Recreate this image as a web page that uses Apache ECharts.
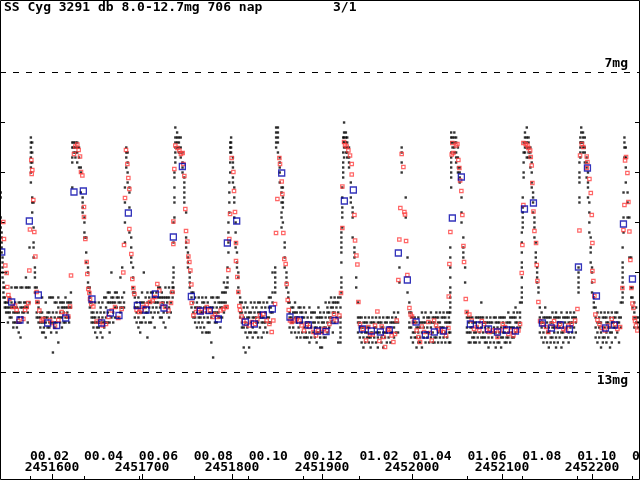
<!DOCTYPE html>
<html><head><meta charset="utf-8">
<script src="https://cdn.jsdelivr.net/npm/echarts@6/dist/echarts.min.js"></script>
<style>html,body{margin:0;padding:0;background:#fff}#c{width:640px;height:480px}</style>
</head><body><div id="c"></div>
<script>
const JD_BASE = 2450000;
const titleText = 'SS Cyg 3291 db 8.0-12.7mg 706 nap';
const pageText = '3/1';
const jdTicks = [1600,1700,1800,1900,2000,2100,2200];
const monthTicks = [1575.5,1635.5,1696.5,1757.5,1818.5,1879.5,1941.5,2000.5,2061.5,2122.5,2183.5,2244.5];
const monthLabels = ['00.02','00.04','00.06','00.08','00.10','00.12','01.02','01.04','01.06','01.08','01.10','01.12'];
const magTicks = [8,9,10,11,12];
const limitMags = [7,13];
const limitLabels = ['7mg','13mg'];

// visual estimates: [JD-2450000, mag, mag, ...]
const visualCols = [
[1543,9.4,9.5,9.9,10.0,10.1],[1544,10.2,10.3,10.4,10.5,10.6],[1545,10.7,10.8,10.9,11.0,11.1],
[1546,11.2,11.3,11.4,11.5],[1547.5,11.3,11.5,11.6,11.7],[1549,11.0,11.6,11.7,11.8],
[1551,11.6,11.7,11.8,12.0],[1553,11.5,11.7,11.8,11.9],[1555,11.3,11.6,11.7,11.9],
[1557,11.7,11.8,12.0,12.1],[1559,11.3,11.6,11.7,11.8,12.0],[1561,11.3,11.7,11.8,12.0,12.1],
[1563,11.6,11.8,11.9,12.0,12.2],[1565,11.3,11.6,11.7,12.0,12.3],[1567,11.3,11.7,11.8,11.9],
[1569,11.6,11.7,11.8],[1571,11.1,11.3,11.6,11.7],[1573,11.3,11.7,11.8,12.0],
[1575,10.5,11.3,11.6],[1576.5,8.3,8.4,8.5,8.6,8.7,8.8,8.9,9.0,9.2],[1578,8.4,8.6,8.8,9.5,9.6,9.8],
[1579.5,9.6,10.1,10.4,10.5,10.7],[1581,10.9,11.0,11.1,11.3,11.4],
[1583,11.3,11.6,11.8,11.9],[1585,11.6,11.7,11.9,12.0],[1587,11.8,11.9,12.0,12.1],
[1589,11.5,11.8,12.0,12.2],[1591,11.9,12.0,12.1,12.2],[1593,11.6,11.9,12.0,12.3],
[1595,11.8,11.9,12.1],[1597,11.5,11.8,12.0,12.1],[1599,11.5,11.9,12.0,12.2],
[1601,11.5,11.8,12.0,12.6],[1603,11.6,11.9,12.0,12.1],[1605,11.6,11.8,12.0,12.2],
[1607,11.5,11.7,11.9,12.4],[1609,11.6,11.8,11.9,12.0],[1611,11.6,11.7,11.9,12.1],
[1613,11.6,11.7,11.8,12.0],[1615,11.5,11.7,11.9,12.0],[1617,11.6,11.7,11.8,11.9],
[1619,11.6,11.7,11.9,12.0],[1621,11.4,11.6,11.7],
[1622.5,8.4,8.5,8.7,8.8,9.3],[1624,8.4,8.5,8.6],[1626,8.4,8.5,8.6,8.7],[1628,8.4,8.5,8.6,8.8],
[1630,8.5,8.7,8.9],[1632,8.9,9.0,9.4],[1634,9.5,9.6,9.7,9.8],[1636,9.9,10.0,10.2,10.3],
[1638,10.3,10.6,10.8],[1640,10.9,11.0,11.2,11.3],[1642,11.3,11.4,11.5,11.6,11.7],
[1644,11.6,11.8,11.9,12.0],[1646,11.8,11.9,12.0,12.1],[1648,11.6,11.9,12.0,12.2],
[1650,11.8,12.0,12.1,12.3],[1652,11.6,11.9,12.0,12.1],[1654,11.7,11.8,12.0,12.2],
[1656,11.6,11.9,12.0,12.3],[1658,11.5,11.8,12.0,12.1],[1660,11.5,11.7,11.9,12.0],
[1662,11.4,11.6,11.8,12.0],[1664,11.4,11.6,12.0,12.2],[1666,11.0,11.5,11.6,11.9],
[1668,11.5,11.6,11.8,12.0],[1670,11.4,11.6,11.7,11.9],[1672,11.4,11.5,11.7],
[1674,11.5,11.6,11.9],[1676,11.1,11.6,11.7,11.8],[1678,10.9,11.5,11.7],[1680,11.4,11.6,11.7],
[1681,9.3,9.6,10.0,10.4],[1682.5,8.5,8.6,8.7,8.9],[1684,8.6,8.8,9.0,9.2],[1686,9.3,9.4,9.7,10.2],
[1688,10.3,10.5,10.7,10.8],[1690,10.9,11.1,11.3,11.4],
[1692,11.4,11.5,11.7,11.9],[1694,11.6,11.7,11.8,12.0],[1696,11.5,11.7,11.9,12.1],
[1698,11.6,11.8,12.0,12.2],[1700,11.4,11.6,11.8,12.0],[1702,11.0,11.6,11.7,11.9],
[1704,11.5,11.7,11.8,12.0],[1706,11.4,11.6,11.8,12.3],[1708,11.5,11.6,11.7,12.0],
[1710,11.4,11.6,11.8,12.0],[1712,11.4,11.5,11.7,11.9],[1714,11.5,11.6,11.8,12.1],
[1716,11.4,11.6,11.7],[1718,11.3,11.5,11.6,11.8],[1720,11.3,11.5,11.7,11.9],
[1722,11.4,11.5,11.6,11.9],[1724,11.5,11.6,11.8,12.0],[1726,11.3,11.5,11.7,12.1],
[1728,11.5,11.6,11.8],[1730,11.3,11.5,11.7,11.9],[1732,11.4,11.6,11.8],[1734,11.2,11.3,11.5],
[1735,10.0,10.4,10.9,11.0,11.1,11.3,11.4],[1736,9.0,9.1,9.3,9.5,9.6,9.9],
[1737,8.1,8.3,8.4,8.5,8.6,8.7,8.8],[1739,8.2,8.3,8.4,8.5],[1741,8.3,8.4,8.5,8.6],
[1743,8.3,8.5,8.6,8.7],[1745,8.6,8.8,8.9,9.0],[1747,9.1,9.2,9.3,9.4,9.5,9.6],
[1749,9.8,10.3,10.4,10.5],[1751,10.6,10.7,10.8,10.9],[1753,11.0,11.1,11.2,11.3],
[1755,11.4,11.5,11.7],[1757,11.4,11.6,11.8,11.9],[1759,11.5,11.7,11.9,12.0],
[1761,11.6,11.7,11.8,12.1],[1763,11.5,11.7,11.9,12.0],[1765,11.7,11.8,11.9,12.1],
[1767,11.5,11.6,11.8,12.0,12.2],[1769,11.6,11.7,11.9,12.1],[1771,11.5,11.7,11.8,12.2],
[1773,11.6,11.9,12.0,12.2],[1775,11.7,11.8,12.0,12.2],[1777,11.5,11.7,11.9,12.4],
[1779,11.5,11.7,11.8,12.7],[1781,11.6,11.8,12.0],[1783,11.5,11.7,11.8,12.0],
[1785,11.5,11.6,11.8,11.9],[1787,11.6,11.7,11.9,12.1],[1789,11.4,11.6,11.7,11.9],
[1791,11.2,11.4,11.6,11.8],[1793,11.3,11.4,11.6,11.7],
[1795,10.9,11.1,11.2,11.3],[1796,10.0,10.2,10.4,10.6],[1797,9.2,9.4,9.6,9.8],
[1798,8.4,8.5,8.6,8.8,9.0],[1799,8.3,8.4,8.5,8.6],[1801,8.7,8.8,8.9,9.1,9.2],
[1802.5,9.3,9.5,9.6,9.9],[1804,10.0,10.2,10.4,10.5],[1805.5,10.6,10.8,10.9],
[1807,11.0,11.1,11.3,11.4],
[1809,11.5,11.6,11.8,11.9],[1811,11.6,11.8,12.0,12.1],[1813,11.7,11.9,12.1,12.5],
[1815,11.6,11.8,12.0,12.2,12.6],[1817,11.7,11.9,12.1,12.3],[1819,11.8,11.9,12.2,12.5],
[1821,11.6,11.8,12.0,12.2],[1823,11.7,11.9,12.1,12.3],[1825,11.6,11.8,11.9,12.2],
[1827,11.7,11.9,12.0,12.2],[1829,11.6,11.8,12.0,12.3],[1831,11.6,11.8,11.9,12.1],
[1833,11.7,11.9,12.0,12.3],[1835,11.6,11.9,12.0,12.2],[1837,11.7,11.8,12.0,12.1],
[1839,11.6,11.9,12.2],[1841,11.5,11.7,11.9,12.0],[1843,11.5,11.7,11.8,12.0],
[1845,11.0,11.4,11.6,11.8],
[1848,10.9,11.0,11.1,11.2,11.3,11.4],[1849,8.1,8.2,8.3,8.4,8.5],[1851,8.1,8.2,8.3,8.4,8.6],
[1853,8.7,8.8,8.9,9.0,9.2],[1855,9.3,9.4,9.6,9.8,9.9,10.1],[1856.5,9.3,9.5,9.6,9.7,10.0],
[1858.5,10.4,10.5,10.7,10.9],[1860.5,11.0,11.1,11.2,11.3],[1862.5,11.4,11.5,11.6],
[1864,11.6,11.8,11.9,12.1],[1866,11.7,11.9,12.0,12.2],[1868,11.7,11.8,12.0,12.1],
[1870,11.6,11.8,11.9,12.2],[1872,11.8,11.9,12.0,12.3],[1874,11.7,11.9,12.1,12.2],
[1876,11.7,11.8,12.0,12.3],[1878,11.8,11.9,12.0,12.2],[1880,11.7,11.9,12.1,12.3],
[1882,11.8,12.0,12.2,12.3],[1884,11.9,12.0,12.1,12.3],[1886,11.7,12.0,12.2,12.4],
[1888,11.8,11.9,12.1,12.3],[1890,11.8,12.0,12.2],[1892,11.8,12.0,12.1,12.3],
[1894,11.9,12.1,12.2,12.4],[1896,11.7,11.9,12.0,12.2],[1898,11.8,11.9,12.1,12.3,12.5],
[1900,11.9,12.0,12.2,12.5],[1902,11.8,12.0,12.1,12.3],[1904,11.6,11.9,12.1,12.3],
[1906,11.7,11.8,12.0,12.2],[1908,11.6,11.8,11.9,12.1],[1910,11.5,11.7,11.9,12.0],
[1912,11.6,11.7,11.8,12.2],[1914,11.5,11.6,11.8,12.0],[1916,11.6,11.7,11.9],
[1918,11.5,11.6,11.8,12.4],
[1920.5,11.5,11.7,11.9,12.0,12.1,12.2,12.3,12.4],[1921.5,10.2,10.3,10.4,10.5,10.6,10.8,11.1,11.2,11.3,11.4],
[1922.5,9.3,9.5,9.7,9.8,9.9,10.1],[1923.5,8.3,8.4,8.6,8.8,8.9,9.0,9.1],
[1924.5,8.0,8.2,8.3,8.4,8.5,8.7],[1926.5,8.2,8.3,8.4,8.5,8.6],[1928,8.3,8.4,8.5,8.6,8.7],
[1930,8.5,8.7,8.8,8.9],[1932,9.2,9.5,9.6],[1934,9.7,9.8,9.9,10.3],[1936,10.5,10.6,10.7],
[1938,11.1,11.3],
[1940,11.6,11.9,12.0,12.2],[1942,11.9,12.0,12.1,12.3],[1944,11.9,12.1,12.2,12.4],
[1946,12.0,12.1,12.3,12.5],[1948,11.9,12.0,12.2,12.4],[1950,12.0,12.1,12.2,12.3],
[1952,11.9,12.1,12.3,12.4],[1954,12.0,12.2,12.3,12.5],[1956,11.9,12.0,12.2,12.4],
[1958,12.0,12.1,12.3],[1960,11.9,12.1,12.2,12.4],[1962,12.0,12.2,12.3,12.5],
[1964,11.9,12.0,12.2],[1966,12.0,12.1,12.3,12.4],[1968,11.9,12.1,12.2,12.5],
[1970,12.0,12.2,12.3],[1972,11.9,12.0,12.2,12.4],[1974,11.9,12.1,12.3],
[1976,12.0,12.1,12.2,12.4],[1978,11.9,12.0,12.2],[1980,11.8,12.0,12.1,12.3],
[1982,11.9,12.0,12.2],[1984.5,11.8,12.0,12.2],
[1986,10.9,11.2],[1988.5,8.5,8.6,8.8,9.0],[1993,9.5,9.9],[1995,10.7,11.4],
[1997,11.6,11.8,12.0,12.1],[1999,11.8,11.9,12.1,12.3],[2001,11.9,12.0,12.2,12.4],
[2003,11.9,12.0,12.2,12.3],[2005,12.0,12.1,12.3,12.5],[2007,11.9,12.1,12.2,12.4],
[2009,12.0,12.1,12.3,12.4],[2011,11.8,12.0,12.2,12.5],[2013,11.9,12.0,12.1,12.3],
[2015,11.8,12.0,12.2,12.4],[2017,11.9,12.1,12.2,12.3],[2019,11.9,12.0,12.2,12.4],
[2021,11.8,12.0,12.1,12.3],[2023,11.9,12.0,12.2,12.4],[2025,11.9,12.0,12.3,12.4],
[2027,11.8,11.9,12.1,12.3],[2029,11.9,12.0,12.2,12.4],[2031,11.8,12.0,12.1,12.3],
[2033,11.9,12.1,12.2,12.4],[2035,11.8,11.9,12.1,12.3],[2037,11.9,12.0,12.2,12.4],
[2039,11.8,12.0,12.1,12.3],[2041,11.8,11.9,12.0,12.2,12.4],
[2042.5,10.5,10.7,10.9,11.1,11.3,11.4,11.5,11.6,11.7,11.8,12.0,12.2,12.4],
[2043.5,8.2,8.3,8.4,8.6,8.7,8.8,8.9,9.0,9.1,9.3],[2045,8.3,8.4,8.5],
[2047,8.2,8.3,8.4,8.5,8.6],[2049,8.3,8.4,8.6,8.7,8.8],[2051,8.5,8.7,8.9,9.0],
[2053,8.9,9.0,9.1,9.2],[2055,9.5,9.8,10.0],[2057,10.3,10.5,10.6,10.7],[2059,10.9,11.2],
[2061,11.8,11.9,12.1,12.2],[2063,11.9,12.0,12.2,12.4],[2065,11.9,12.1,12.2,12.4],
[2067,11.9,12.0,12.1,12.3],[2069,12.0,12.2,12.3,12.4],[2071,11.9,12.0,12.2,12.4],
[2073,11.9,12.1,12.3],[2075,11.9,12.0,12.2,12.4],[2077,11.6,11.9,12.1,12.3],
[2079,11.9,12.0,12.2,12.3],[2081,12.0,12.1,12.3,12.4],[2083,11.9,12.0,12.2,12.4],
[2085,12.0,12.1,12.3,12.5],[2087,11.9,12.0,12.2,12.4],[2089,12.0,12.2,12.3],
[2091,11.9,12.1,12.2,12.4],[2093,11.9,12.0,12.2,12.5],[2095,12.0,12.1,12.3,12.4],
[2097,11.9,12.0,12.2,12.4],[2099,11.9,12.1,12.3,12.5],[2101,11.9,12.0,12.2,12.3],
[2103,11.9,12.1,12.2,12.4],[2105,12.0,12.1,12.3,12.4],[2107,11.8,12.0,12.2,12.3],
[2109,11.9,12.0,12.1,12.4],[2111,11.9,12.1,12.2,12.3],[2113,11.8,11.9,12.1,12.3],
[2115,11.7,11.9,12.0,12.2],[2117,11.8,12.0,12.1],[2120,11.6,11.8,11.9,12.0,12.1],
[2122,10.2,10.4,10.6,10.8,10.9,11.1,11.3,11.4,11.5,11.6],[2123,9.5,9.7,9.8,9.9,10.0,10.1],
[2124,8.4,8.6,8.8,9.0,9.1],[2125.5,8.2,8.3,8.4,8.5,8.6],[2127.5,8.1,8.3,8.4,8.5,8.7],
[2129.5,8.3,8.4,8.5,8.6,8.7],[2131.5,8.5,8.6,8.7,8.9],[2133,8.8,9.0,9.2,9.3],
[2134.5,9.4,9.5,9.6,9.8],[2136,9.9,10.0,10.1,10.3],[2137.5,10.4,10.6,10.7,10.8],
[2139,10.9,11.0,11.1,11.2],[2140.5,11.3,11.4],
[2142,11.7,11.9,12.0,12.2],[2144,11.8,12.0,12.1,12.3],[2146,11.9,12.0,12.2,12.4],
[2148,11.7,11.9,12.1,12.3],[2150,11.9,12.0,12.2,12.4],[2152,11.9,12.1,12.2,12.5],
[2154,11.9,12.0,12.3,12.4],[2156,11.8,12.0,12.1,12.3],[2158,11.9,12.1,12.2,12.4],
[2160,11.8,11.9,12.1,12.3,12.5],[2162,11.9,12.0,12.2,12.4],[2164,11.9,12.0,12.1,12.3],
[2166,11.8,12.0,12.2,12.5],[2168,11.9,12.1,12.2,12.4],[2170,11.9,12.0,12.3],
[2172,11.8,11.9,12.1,12.3],[2174,11.9,12.0,12.2,12.4],[2176,11.8,12.0,12.1,12.3],
[2178,11.9,12.0,12.2],[2180,11.8,11.9,12.1,12.3],[2182,11.9,12.0,12.2],
[2185,10.9,11.0,11.1,11.2,11.3,11.4],[2186,8.8,9.0,9.1,9.2,9.5,9.6],[2187,8.3,8.4,8.5,8.6,8.7],
[2188,8.1,8.2,8.4],[2190,8.2,8.3,8.4,8.5,8.6],[2192,8.3,8.5,8.6,8.8],[2194,8.7,8.8,8.9,9.1],
[2195.5,9.0,9.2,9.3,9.5],[2197,9.6,9.8,10.0,10.2],[2198.5,10.3,10.5,10.6,10.8],
[2200,10.9,11.0,11.2,11.4],[2202,11.5,11.6,11.7],
[2204,11.7,11.9,12.1,12.3],[2206,11.8,12.0,12.2,12.4],[2208,11.9,12.0,12.1,12.3],
[2210,11.8,12.0,12.2,12.5],[2212,11.9,12.1,12.3,12.4],[2214,11.8,11.9,12.1,12.3],
[2216,11.9,12.0,12.2,12.4],[2218,11.8,12.0,12.1,12.3],[2220,11.9,12.1,12.2,12.5],
[2222,11.8,12.0,12.2,12.4],[2224,11.9,12.0,12.1],[2226,11.8,11.9,12.1,12.3],
[2228,11.8,12.0,12.2],[2230,11.9,12.0,12.4],[2232,11.6,11.9,12.1],
[2234,10.5,10.8,10.9,11.0,11.1,11.2,11.3,11.4,11.5,11.6],[2235,9.4,9.9,10.2],
[2236,8.3,8.4,8.5,8.7],[2237.5,8.5,8.7,8.9,9.2],[2239.5,9.4,9.6,9.9],[2241.5,9.9,10.7],
[2243.5,10.7,11.3,11.5],[2245,11.3,11.5,11.7],[2247,11.6,11.8,11.9,12.1],
[2249,11.7,11.9,12.0],[2251,11.9,12.0,12.1]
];

// other observations (red): [JD-2450000, mag]
const otherObs = [
[1545.9,9.99],[1546.6,10.33],[1548.1,10.86],[1549.6,11.01],[1550.3,11.29],[1551.5,11.45],[1552.6,11.53],
[1556.3,11.69],[1558.9,11.66],[1560.7,11.75],[1562.6,11.97],[1568.1,11.93],[1570,11.75],[1571.8,11.69],
[1573.7,11.61],[1575.5,10.14],[1574.8,10.96],[1577,8.75],[1578.1,8.95],[1577.4,9.03],[1579.2,9.55],
[1580.3,10.19],[1581.5,10.68],[1582.9,11.39],[1583.7,11.59],[1585.9,11.76],[1588.5,11.96],[1590.3,11.93],
[1597.8,11.95],[1599.6,12.01],[1603.3,12.08],[1607,11.95],[1610.7,11.79],[1614.4,11.84],[1618.1,11.88],
[1620,11.68],[1621.1,11.06],[1624.4,8.63],[1625.9,8.48],[1628.1,8.44],[1629.6,8.55],[1631.1,8.68],
[1632.2,8.99],[1633.7,9.06],[1635.5,9.69],[1635.5,9.89],[1637,10.33],[1638.5,10.79],[1639.2,11.03],
[1640.3,11.33],[1641.5,11.41],[1642.2,11.53],[1643.7,11.63],[1645.9,11.68],[1649.6,11.98],[1653.3,11.97],
[1656.3,12.06],[1660,12.03],[1662.6,11.89],[1666.3,11.76],[1670,11.69],[1673.7,11.91],[1677.4,11.73],
[1679.2,11.0],[1680,10.45],[1681.1,9.51],[1682.2,8.55],[1683.7,8.83],[1684.8,9.11],[1685.9,9.33],
[1685.9,10.13],[1688.1,10.63],[1689.2,11.13],[1690.3,11.31],[1691.5,11.43],[1694,11.75],[1697,11.79],
[1699.6,11.75],[1701.5,11.69],[1705.2,11.64],[1708.9,11.59],[1711.8,11.56],[1714.4,11.49],[1717,11.23],
[1719.2,11.36],[1721.9,11.63],[1725.6,11.69],[1729.3,11.76],[1732.2,11.61],[1733.7,11.39],[1734.8,10.43],
[1734.8,9.98],[1735.9,8.93],[1737,8.46],[1739.3,8.51],[1741.5,8.56],[1743.3,8.63],[1745.2,8.61],
[1745.9,8.83],[1747,9.07],[1748.1,9.73],[1748.9,10.17],[1750.4,10.38],[1751.5,10.68],[1752.6,10.79],
[1753.7,10.96],[1754.8,11.24],[1755.2,11.61],[1757,11.86],[1760,11.79],[1762.6,11.73],[1766.3,11.79],
[1770,11.76],[1771.9,11.69],[1775.6,11.76],[1778.5,11.89],[1781.1,11.84],[1783.7,11.89],[1787.4,11.76],
[1790.4,11.73],[1793,11.69],[1794.1,11.69],[1795.9,10.95],[1797,10.33],[1797.8,9.83],[1799.6,8.71],
[1801.5,8.99],[1802.2,9.37],[1803.3,9.79],[1804.4,10.41],[1804.4,10.77],[1805.9,11.09],[1807,11.39],
[1808.1,11.67],[1808.9,11.75],[1810.7,11.88],[1812.6,11.96],[1815.6,12.03],[1819.3,12.06],[1821.9,11.99],
[1825.6,12.03],[1828.1,11.93],[1831.1,11.86],[1834.8,11.83],[1838.5,11.96],[1841.5,12.03],[1844.1,12.19],
[1845.9,11.96],[1847.8,11.63],[1848.9,10.21],[1850.4,9.53],[1852.6,8.71],[1853.3,8.83],[1855.2,9.18],
[1855.9,9.43],[1857,10.21],[1858.1,10.73],[1859.6,10.83],[1860.7,11.23],[1861.9,11.55],[1863,11.75],
[1864.4,11.96],[1866.3,11.99],[1868.9,11.96],[1871.9,11.93],[1874.8,11.96],[1877.4,12.06],[1880,12.16],
[1883,12.03],[1886.7,12.09],[1890.4,12.19],[1893.3,12.26],[1895.9,12.16],
[1899.7,12.19],[1902.2,12.13],[1905.2,12.16],[1908.2,12.03],[1910.8,11.93],[1913.4,11.83],[1916.3,11.96],
[1919.3,11.86],[1921.1,11.41],[1922.6,10.11],[1922.6,9.28],[1924.5,8.39],[1925.6,8.45],[1927.4,8.48],
[1929.3,8.56],[1931.1,8.66],[1933,8.83],[1933,9.04],[1936,9.85],[1936.7,10.36],[1938.2,10.66],
[1939.3,10.84],[1940.4,11.59],[1942.2,12.03],[1945.2,12.13],[1948.9,12.36],[1951.5,12.09],[1953.4,12.24],
[1956.3,12.24],[1958.9,12.06],[1961.5,11.78],[1963.7,12.37],[1966.3,12.08],[1968.2,12.29],[1970,12.49],
[1973,12.15],[1974.8,12.13],[1977.4,12.26],[1979.3,12.39],[1981.1,12.23],[1983,11.96],[1984.8,11.15],
[1985.9,10.34],[1987,9.71],[1988.5,8.63],[1990.4,8.89],[1991.5,9.79],[1992.2,9.84],[1993.4,10.37],
[1994.8,11.05],[1997.1,11.71],[1998.5,11.84],[2000,11.88],[2002.2,11.99],[2005.2,12.16],[2007.1,12.29],
[2008.9,12.39],[2010.8,12.08],[2013.4,12.19],[2018.2,11.99],[2020,12.21],[2021.9,12.36],[2024.5,11.96],
[2026.7,12.06],[2029.3,12.13],[2031.9,12.16],[2034.8,12.19],[2037.8,12.26],[2040.4,12.11],[2040.8,11.48],
[2041.5,10.83],[2042.6,10.19],[2044.1,8.64],[2044.8,8.41],[2045.9,8.61],[2048.9,8.46],[2050.4,8.43],
[2051.5,8.75],[2052.6,8.91],[2053.4,9.16],[2054.8,9.37],[2055.9,9.85],[2057.1,10.47],[2057.8,10.79],
[2059.7,11.53],[2060.8,11.79],[2063.7,11.84],[2066.3,11.96],[2068.9,12.13],[2071.9,12.09],[2074.8,12.16],
[2077.5,11.97],[2080,12.03],[2083,12.16],[2086,12.19],[2089.7,12.16],[2092.3,12.16],[2094.9,12.29],
[2097.8,12.16],[2100.8,12.03],[2103.4,12.09],[2107.1,12.23],[2109.7,12.16],[2112.6,12.26],[2115.6,12.16],
[2118.2,12.16],[2120,12.03],[2121.9,11.01],[2122.6,10.45],[2123.7,9.65],[2123.7,8.41],[2126.3,8.43],
[2128.2,8.46],[2129.3,8.51],[2131.2,8.56],[2131.9,8.69],[2133,8.86],[2133.7,9.21],[2134.9,9.78],
[2136,10.17],[2137.8,10.41],[2138.6,10.85],[2139.3,11.17],[2140.4,11.59],[2142.3,11.97],[2145.2,12.03],
[2148.9,12.09],[2151.5,12.19],[2155.2,12.03],[2157.8,11.97],[2160.8,12.09],[2164.5,12.03],[2168.2,12.13],
[2171.1,12.16],[2173.7,12.06],[2177.4,12.03],[2181.2,11.96],[2183.8,11.73],[2186,10.16],[2186.7,8.66],
[2188.6,8.43],[2190.4,8.49],[2194.1,8.68],[2194.9,8.79],[2194.1,8.91],[2197.1,9.13],[2198.6,9.41],
[2199.7,9.85],[2200.4,10.41],[2200.4,10.97],[2201.5,11.17],[2202.6,11.47],[2203.7,11.84],[2206,11.95],
[2208.2,12.03],[2210.8,12.11],[2214.5,12.16],[2218.2,12.06],[2221.9,11.93],[2225.6,12.03],[2228.2,12.13],
[2231.2,12.09],[2233.7,11.31],[2234.9,10.15],[2236,9.65],[2236.7,8.76],[2237.8,8.69],[2239.3,9.01],
[2240.4,9.59],[2241.5,10.18],[2242.6,10.75],[2243.7,11.31],[2244.9,11.62],[2246,11.71],[2247.1,11.91],
[2247.8,11.97],[2248.9,12.06],[2250.4,12.16]
];

// 10-day means (blue): [JD-2450000, mag]
const tenDayMeans = [
[1544.1,10.59],[1555.2,11.59],[1564.4,11.95],[1574.8,9.97],[1584.8,11.45],[1595.2,12.01],[1605.2,12.06],
[1615.2,11.91],[1624.4,9.39],[1634.8,9.37],[1644.4,11.53],[1655.2,12.01],[1664.8,11.81],[1674.4,11.86],
[1684.8,9.81],[1694.8,11.66],[1704.4,11.75],[1714.8,11.43],[1724.4,11.71],[1734.8,10.29],[1744.8,8.88],
[1754.8,11.48],[1764.8,11.77],[1774.8,11.76],[1784.8,11.93],[1794.8,10.41],[1805.2,9.97],[1814.8,11.99],
[1824.8,12.03],[1834.8,11.85],[1844.8,11.73],[1855.2,9.01],[1864.4,11.89],[1874.8,11.95],[1884.8,12.05],
[1894.8,12.17],[1904.5,12.18],[1914.5,11.96],[1924.8,9.57],[1934.8,9.35],[1944.8,12.13],[1954.8,12.17],
[1964.8,12.19],[1974.8,12.15],[1984.8,10.61],[1994.8,11.15],[2004.5,11.99],[2014.8,12.25],[2024.8,12.19],
[2034.8,12.17],[2044.8,9.91],[2054.8,9.09],[2064.8,12.03],[2074.8,12.05],[2084.9,12.13],[2094.9,12.19],
[2104.9,12.15],[2114.9,12.17],[2124.9,9.73],[2134.9,9.61],[2144.9,12.01],[2154.9,12.11],[2164.9,12.05],
[2174.9,12.13],[2184.9,10.89],[2194.9,8.91],[2204.9,11.47],[2214.9,12.11],[2224.9,12.05],[2234.9,10.03],
[2244.9,11.13],[2254.6,12.09]
];

const visualPts = [];
visualCols.forEach(c => { for (let i = 1; i < c.length; i++) visualPts.push([c[0], c[i]]); });

const FONT = 'DejaVu Sans Mono';
const X_MIN = 1542.2, X_MAX = 2253.3, Y_MIN = 5.55, Y_MAX = 15.15;

const chart = echarts.init(document.getElementById('c'), null, {renderer: 'canvas'});
const labelStyle = {fontFamily: FONT, fontWeight: 'bold', fontSize: 13, color: '#000'};
chart.setOption({
  animation: false,
  backgroundColor: '#fff',
  title: [
    {text: titleText, left: 4, top: 1, padding: 0, textStyle: labelStyle},
    {text: pageText, left: 333, top: 1, padding: 0, textStyle: labelStyle}
  ],
  grid: {left: 0, right: 0, top: 0, bottom: 0, show: false, containLabel: false, outerBoundsMode: 'none'},
  xAxis: [
    {type: 'value', position: 'bottom', min: X_MIN, max: X_MAX, axisLine: {show: false, onZero: false},
     splitLine: {show: false},
     axisTick: {show: true, inside: true, length: 6, customValues: jdTicks, lineStyle: {color: '#000', width: 1}},
     axisLabel: Object.assign({show: true, inside: true, margin: 12, verticalAlign: 'middle', customValues: jdTicks,
       formatter: v => String(JD_BASE + v)}, labelStyle)},
    {type: 'value', position: 'bottom', min: X_MIN, max: X_MAX, axisLine: {show: false, onZero: false},
     splitLine: {show: false},
     axisTick: {show: true, inside: true, length: 4, customValues: monthTicks, lineStyle: {color: '#000', width: 1}},
     axisLabel: Object.assign({show: true, inside: true, margin: 23, align: 'left', verticalAlign: 'middle', customValues: monthTicks,
       formatter: v => { let bi = 0, bd = 1e9; monthTicks.forEach((t, i) => { const d = Math.abs(t - v); if (d < bd) { bd = d; bi = i; } }); return monthLabels[bi]; }}, labelStyle)}
  ],
  yAxis: [
    {type: 'value', position: 'left', inverse: true, min: Y_MIN, max: Y_MAX, axisLine: {show: false, onZero: false},
     splitLine: {show: false}, axisLabel: {show: false},
     axisTick: {show: true, inside: true, length: 5, customValues: magTicks, lineStyle: {color: '#000', width: 1}}},
    {type: 'value', position: 'right', inverse: true, min: Y_MIN, max: Y_MAX, axisLine: {show: false, onZero: false},
     splitLine: {show: false}, axisLabel: {show: false},
     axisTick: {show: true, inside: true, length: 5, customValues: magTicks, lineStyle: {color: '#000', width: 1}}}
  ],
  graphic: [{type: 'rect', shape: {x: 0.5, y: 0.5, width: 639, height: 479}, style: {fill: null, stroke: '#000', lineWidth: 1}, silent: true, z: 100}],
  series: [
    {type: 'scatter', name: 'visual', data: visualPts, symbol: 'rect', symbolSize: 2.4,
     itemStyle: {color: '#000'}, z: 2,
     markLine: {silent: true, symbol: ['none', 'none'], animation: false,
       lineStyle: {color: '#000', width: 1, type: [6, 7]},
       data: limitMags.map((m, i) => ({yAxis: m, label: Object.assign({show: true, formatter: limitLabels[i],
         position: i === 0 ? 'insideEndTop' : 'insideEndBottom', distance: [12, 2]}, labelStyle)}))}},
    {type: 'scatter', name: 'other', data: otherObs, symbol: 'rect', symbolSize: 3.4,
     itemStyle: {color: 'rgba(255,255,255,0)', borderColor: '#ff4040', borderWidth: 1.2}, z: 3},
    {type: 'scatter', name: 'means', data: tenDayMeans, symbol: 'rect', symbolSize: 6,
     itemStyle: {color: 'rgba(255,255,255,0)', borderColor: '#0000aa', borderWidth: 1.3}, z: 4}
  ]
});
</script>
</body></html>
